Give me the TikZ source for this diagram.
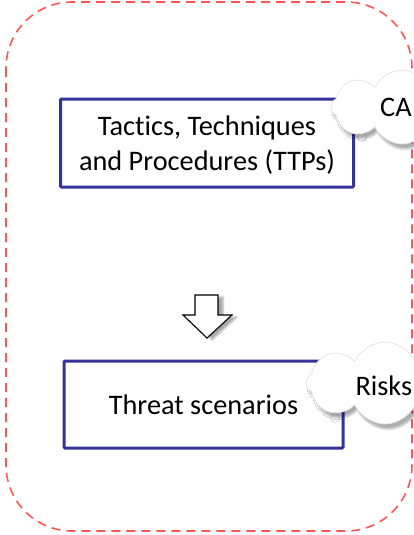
\documentclass[tikz,border=0pt]{standalone}
\usepackage{fontspec}
\setmainfont{Carlito}[Ligatures=NoCommon]
\usetikzlibrary{shapes.symbols,shadows.blur}
\definecolor{frame}{RGB}{255,85,85}
\definecolor{boxblue}{RGB}{51,51,153}
\tikzset{
  outer/.style={draw=frame, line width=1.6pt, dash pattern=on 9pt off 6pt, rounded corners=66pt},
  stepbox/.style={draw=boxblue, line width=3pt, fill=white, rounded corners=1pt},
  label/.style={font=\fontsize{28.3}{35}\selectfont, align=center, text=black},
  puff/.style={cloud, cloud puffs=8, cloud puff arc=130, aspect=1.8, draw=black!10, line width=0.8pt, fill=white,
    blur shadow={shadow xshift=3pt, shadow yshift=-5pt, shadow blur steps=8, shadow opacity=32}},
  bubble/.style={circle, draw=black!15, line width=0.8pt, fill=white, inner sep=0pt, minimum size=9pt},
  blockarrow/.style={draw=black, line width=1.1pt, fill=white, line join=miter,
    blur shadow={shadow xshift=5pt, shadow yshift=-2pt, shadow blur steps=6, shadow opacity=35}}
}
\begin{document}
\begin{tikzpicture}[x=1pt,y=-1pt]
  \useasboundingbox (0,0) rectangle (414,535);
  \clip (0,0) rectangle (414,535);
  % dashed rounded frame
  \draw[outer] (6,2) rectangle (412,531);
  % upper step
  \node[stepbox, minimum width=293pt, minimum height=88pt] (ttp) at (207,143) {};
  \node[label] (ttptext) at (207,145) {Tactics, Techniques\\and Procedures (TTPs)};
  % lower step
  \node[stepbox, minimum width=279pt, minimum height=87pt] (threat) at (203.5,404.5) {};
  \node[label] (threattext) at (threat.center) {Threat scenarios};
  % block arrow between the steps
  \path[blockarrow] (195,295) -- (218,295) -- (218,315) -- (232,315) -- (207,338) -- (183,315) -- (195,315) -- cycle;
  % callout clouds
  \node[bubble] (catail) at (362,137) {};
  \node[puff, minimum width=142pt, minimum height=74pt] (ca) at (402,107) {};
  \node[label, anchor=west, inner xsep=1pt] (catext) at (379,107) {CA};
  \node[bubble] (risktail) at (335,418) {};
  \node[puff, minimum width=158pt, minimum height=82pt] (risk) at (385,383) {};
  \node[label, anchor=west] (risktext) at (352,386) {Risks};
\end{tikzpicture}
\end{document}
